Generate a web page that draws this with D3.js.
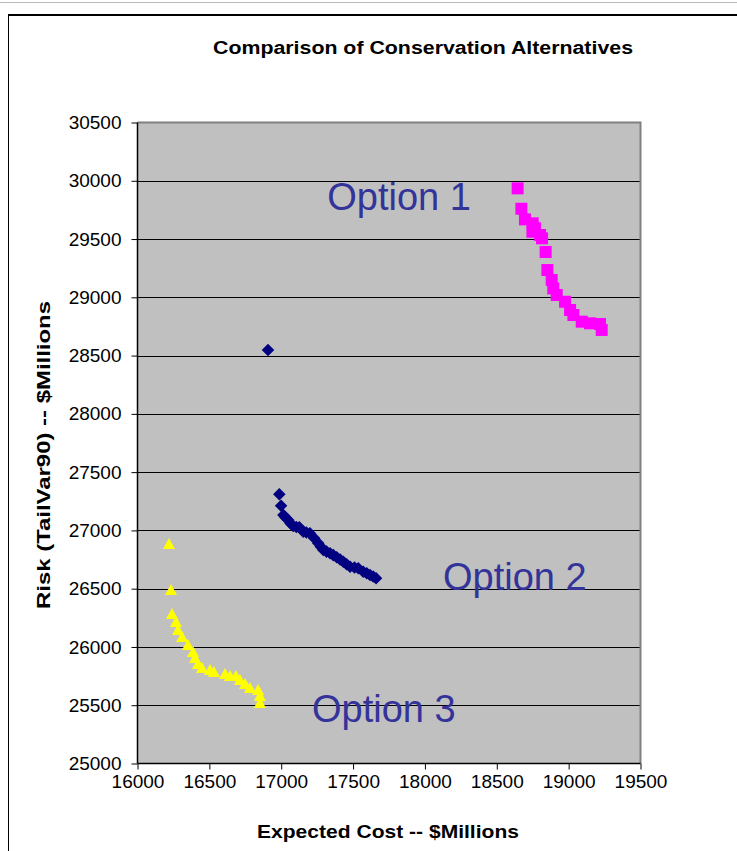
<!DOCTYPE html>
<html><head><meta charset="utf-8">
<script src="https://cdn.jsdelivr.net/npm/d3@7"></script>
<style>body{margin:0;background:#fff}</style>
</head><body>
<svg id="c" width="737" height="851"></svg>
<script>
const xTicks = [16000,16500,17000,17500,18000,18500,19000,19500];
const yTicks = [25000,25500,26000,26500,27000,27500,28000,28500,29000,29500,30000,30500];

const option1X = [18645,18671,18696,18750,18748,18766,18801,18815,18840,18852,18882,18893,18917,18975,19010,19033,19091,19149,19218,19230];
const option1Y = [29935,29760,29669,29635,29563,29592,29535,29506,29389,29234,29149,29077,29020,28962,28891,28848,28791,28777,28771,28720];

const option2X = [16908,16987,16999,17015,17030,17049,17065,17084,17105,17126,17154,17175,17200,17230,17258,17275,17293,17315,17340,17362,17386,17410,17432,17455,17479,17510,17536,17571,17595,17618,17640,17660];
const option2Y = [28548,27310,27212,27132,27110,27090,27060,27038,27030,27027,26989,26982,26975,26932,26890,26860,26832,26818,26804,26788,26770,26750,26732,26710,26689,26682,26675,26646,26632,26618,26604,26589];

const option3X = [16219,16233,16240,16268,16282,16310,16351,16386,16400,16421,16449,16505,16532,16609,16644,16685,16713,16748,16783,16839,16852,16852];
const option3Y = [26884,26489,26283,26214,26146,26086,26017,25957,25906,25854,25820,25803,25786,25769,25751,25751,25717,25683,25648,25631,25580,25520];

const labels = [
  {text:"Option 1", x:17320, y:29750},
  {text:"Option 2", x:18126, y:26485},
  {text:"Option 3", x:17214, y:25355}
];

const svg = d3.select("#c");
const F = "Liberation Sans, Arial, sans-serif";
const L = 137.5, R = 640.5, T = 122.5, B = 763.5;
const x = d3.scaleLinear().domain([16000,19500]).range([L,R]);
const y = d3.scaleLinear().domain([25000,30500]).range([B,T]);

// outer frame
svg.append("line").attr("x1",0).attr("x2",737).attr("y1",2.5).attr("y2",2.5).attr("stroke","#bbb").attr("stroke-width",1);
svg.append("line").attr("x1",8).attr("x2",737).attr("y1",15).attr("y2",15).attr("stroke","#000").attr("stroke-width",2);
svg.append("line").attr("x1",8.5).attr("x2",8.5).attr("y1",15).attr("y2",851).attr("stroke","#000").attr("stroke-width",1);

// plot area
svg.append("rect").attr("x",L).attr("y",T).attr("width",R-L).attr("height",B-T).attr("fill","#C0C0C0");

// gridlines
svg.append("g").selectAll("line").data(yTicks.slice(1,-1)).join("line")
  .attr("x1",L).attr("x2",R).attr("y1",d=>Math.round(y(d))+0.5).attr("y2",d=>Math.round(y(d))+0.5)
  .attr("stroke","#000").attr("stroke-width",1);

// plot border top/right
svg.append("path").attr("d",`M${L},${T} H${R} V${B}`).attr("fill","none").attr("stroke","#808080").attr("stroke-width",2);

// axes
const xAxis = d3.axisBottom(x).tickValues(xTicks).tickFormat(d3.format("d")).tickSize(6).tickPadding(2);
const yAxis = d3.axisLeft(y).tickValues(yTicks).tickFormat(d3.format("d")).tickSize(6).tickPadding(10);
const gx = svg.append("g").attr("transform",`translate(0,${B})`).call(xAxis);
const gy = svg.append("g").attr("transform",`translate(${L},0)`).call(yAxis);
[gx,gy].forEach(g=>{
  g.select(".domain").attr("stroke","#000").attr("stroke-width",1.5);
  g.selectAll(".tick line").attr("stroke","#000");
  g.selectAll("text").attr("font-family",F).attr("font-size",19).attr("fill","#000");
});
gy.select(".domain").attr("d",`M0,${B}V${T}`);
gx.select(".domain").attr("d",`M${L},0H${R}`);
gx.selectAll(".tick text").attr("dy","0.85em");

// markers
svg.append("g").selectAll("rect").data(option1X.map((v,i)=>[v,option1Y[i]])).join("rect")
  .attr("x",d=>x(d[0])-6).attr("y",d=>y(d[1])-6).attr("width",12).attr("height",12).attr("fill","#FF00FF");
const diamond = d3.symbol().type(d3.symbolDiamond2).size(100);
svg.append("g").selectAll("path").data(option2X.map((v,i)=>[v,option2Y[i]])).join("path")
  .attr("d",diamond).attr("transform",d=>`translate(${x(d[0])},${y(d[1])})`).attr("fill","#000080");
svg.append("g").selectAll("path").data(option3X.map((v,i)=>[v,option3Y[i]])).join("path")
  .attr("d","M0,-6L6,5L-6,5Z").attr("transform",d=>`translate(${x(d[0])},${y(d[1])})`).attr("fill","#FFFF00");

// labels
svg.append("g").selectAll("text").data(labels).join("text")
  .attr("x",d=>x(d.x)).attr("y",d=>y(d.y)).text(d=>d.text)
  .attr("font-family",F).attr("font-size",38).attr("fill","#333399");

// titles
svg.append("text").attr("x",423).attr("y",54).attr("text-anchor","middle")
  .attr("font-family",F).attr("font-weight","bold").attr("font-size",18)
  .attr("textLength",420).attr("lengthAdjust","spacingAndGlyphs")
  .text("Comparison of Conservation Alternatives");
svg.append("text").attr("x",388).attr("y",838).attr("text-anchor","middle")
  .attr("font-family",F).attr("font-weight","bold").attr("font-size",18)
  .attr("textLength",262).attr("lengthAdjust","spacingAndGlyphs")
  .text("Expected Cost -- $Millions");
svg.append("text").attr("transform",`translate(50,455) rotate(-90)`).attr("text-anchor","middle")
  .attr("font-family",F).attr("font-weight","bold").attr("font-size",18)
  .attr("textLength",308).attr("lengthAdjust","spacingAndGlyphs")
  .text("Risk (TailVar90) -- $Millions");
</script>
</body></html>
